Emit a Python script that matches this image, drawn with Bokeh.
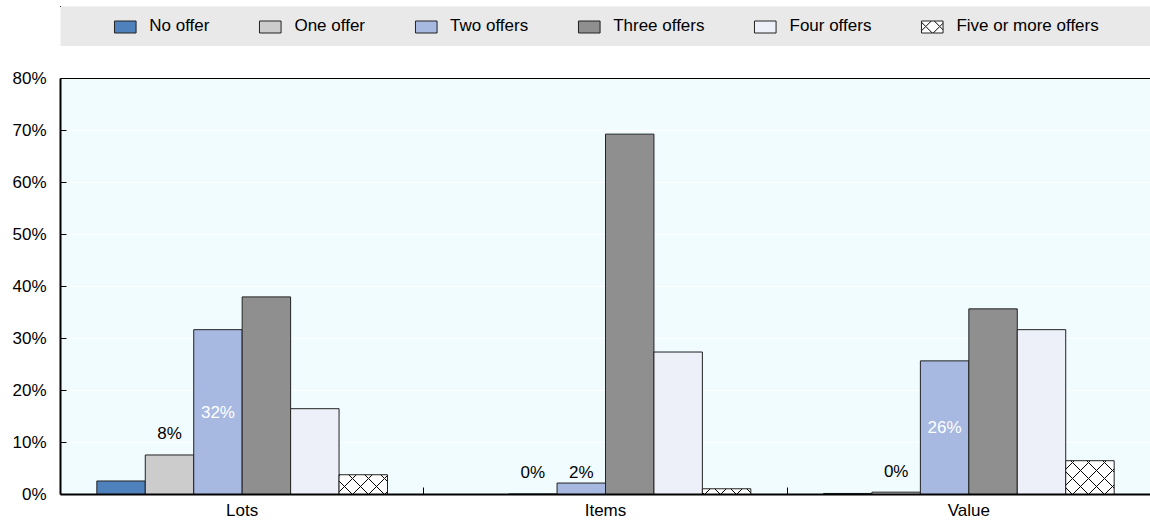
import numpy as np
import pandas as pd
from bokeh.plotting import figure
from bokeh.models import (ColumnDataSource, Range1d, FixedTicker, Legend, LegendItem,
                          LinearAxis)
from bokeh.layouts import column
from bokeh.transform import dodge
from bokeh.core.properties import value
from bokeh.embed import file_html
from bokeh.resources import INLINE

# ---------------- data ----------------
categories = ["Lots", "Items", "Value"]
series_names = ["No offer", "One offer", "Two offers", "Three offers", "Four offers", "Five or more offers"]
no_offer = [2.6, 0.0, 0.2]
one_offer = [7.6, 0.1, 0.45]
two_offers = [31.7, 2.2, 25.7]
three_offers = [38.0, 69.3, 35.7]
four_offers = [16.5, 27.4, 31.7]
five_or_more = [3.8, 1.1, 6.5]
y_ticks = [0, 10, 20, 30, 40, 50, 60, 70, 80]
y_tick_labels = ["0%", "10%", "20%", "30%", "40%", "50%", "60%", "70%", "80%"]

series_values = [no_offer, one_offer, two_offers, three_offers, four_offers, five_or_more]
colors = ["#4f81bd", "#cccccc", "#a7b8e1", "#8f8f8f", "#edf0f8", "#ffffff"]
hatches = [None, None, None, None, None, "diagonal_cross"]

FONT = "Liberation Sans"
FS = "17px"
W = 1150
n_series = len(series_names)
group_w = 0.8
bar_w = group_w / n_series
centers = [i + 0.5 for i in range(len(categories))]

# ---------------- main figure ----------------
p = figure(width=W, height=476, output_backend="svg", toolbar_location=None,
           x_range=Range1d(0, len(categories)), y_range=Range1d(0, 80),
           min_border_left=60, min_border_right=0, min_border_top=32, min_border_bottom=27)
p.background_fill_color = "#f0fcff"
p.border_fill_color = "white"
p.outline_line_color = None

for j, (name, vals, col, h) in enumerate(zip(series_names, series_values, colors, hatches)):
    src = ColumnDataSource(dict(x=centers, top=vals, cat=categories))
    off = -group_w / 2 + (j + 0.5) * bar_w
    kw = dict(x=dodge("x", off), top="top", bottom=0, width=bar_w, source=src,
              fill_color=col, line_color="#222222", line_width=1)
    if h:
        kw.update(hatch_pattern=h, hatch_color="black", hatch_scale=16, hatch_weight=1)
    p.vbar(**kw)

# data labels
def lab(v):
    return f"{int(round(v))}%"

off1 = -group_w / 2 + 1.5 * bar_w
off2 = -group_w / 2 + 2.5 * bar_w
lab1 = ColumnDataSource(dict(x=centers, y=one_offer, t=[lab(v) for v in one_offer]))
p.text(x=dodge("x", off1), y="y", text="t", source=lab1, text_align="center",
       text_baseline="alphabetic", y_offset=-21, text_font=value(FONT),
       text_font_size=FS, text_color="black")

in_x = [c for c, v in zip(centers, two_offers) if v >= 10]
in_v = [v for v in two_offers if v >= 10]
out_x = [c for c, v in zip(centers, two_offers) if v < 10]
out_v = [v for v in two_offers if v < 10]
lab2a = ColumnDataSource(dict(x=in_x, y=[v / 2 for v in in_v], t=[lab(v) for v in in_v]))
lab2b = ColumnDataSource(dict(x=out_x, y=out_v, t=[lab(v) for v in out_v]))
p.text(x=dodge("x", off2), y="y", text="t", source=lab2a, text_align="center",
       text_baseline="middle", text_font=value(FONT), text_font_size=FS, text_color="white")
p.text(x=dodge("x", off2), y="y", text="t", source=lab2b, text_align="center",
       text_baseline="alphabetic", y_offset=-11, text_font=value(FONT),
       text_font_size=FS, text_color="black")

# axes
xa = p.xaxis[0]
xa.ticker = FixedTicker(ticks=centers, minor_ticks=[1, 2])
xa.major_label_overrides = {c: t for c, t in zip(centers, categories)}
xa.major_tick_in = 0
xa.major_tick_out = 0
xa.minor_tick_in = 7
xa.minor_tick_out = 0
xa.minor_tick_line_color = "black"
xa.minor_tick_line_width = 1
xa.axis_line_color = "black"
xa.axis_line_width = 2
xa.major_label_standoff = 6
xa.major_label_text_font = FONT
xa.major_label_text_font_size = FS
xa.major_label_text_color = "black"

ya = p.yaxis[0]
ya.ticker = FixedTicker(ticks=y_ticks)
ya.major_label_overrides = {t: l for t, l in zip(y_ticks, y_tick_labels)}
ya.major_tick_in = 6
ya.major_tick_out = 0
ya.major_tick_line_color = "black"
ya.minor_tick_line_color = None
ya.axis_line_color = "black"
ya.axis_line_width = 2
ya.major_label_standoff = 14
ya.major_label_text_font = FONT
ya.major_label_text_font_size = FS
ya.major_label_text_color = "black"

top_ax = LinearAxis(ticker=FixedTicker(ticks=[]), axis_line_color="black", axis_line_width=1,
                    major_tick_line_color=None, minor_tick_line_color=None,
                    major_label_text_font_size="0px")
p.add_layout(top_ax, "above")

p.xgrid.grid_line_color = None
p.ygrid.grid_line_color = "white"
p.ygrid.grid_line_width = 1
p.ygrid.ticker = FixedTicker(ticks=y_ticks)

# ---------------- legend band ----------------
lg = figure(width=W, height=46, output_backend="svg", toolbar_location=None,
            x_range=Range1d(10, 13), y_range=Range1d(-2, -1),
            x_axis_location=None, y_axis_location=None,
            min_border_left=60, min_border_right=0, min_border_top=6, min_border_bottom=0)
lg.background_fill_color = "#e9e9e9"
lg.border_fill_color = "white"
lg.outline_line_color = None
lg.grid.visible = False

items = []
for j, (name, vals, col, h) in enumerate(zip(series_names, series_values, colors, hatches)):
    src = ColumnDataSource(dict(x=centers, top=vals))
    kw = dict(x="x", top="top", bottom=0, width=bar_w, source=src,
              fill_color=col, line_color="#222222", line_width=1)
    if h:
        kw.update(hatch_pattern=h, hatch_color="black", hatch_scale=14, hatch_weight=1)
    r = lg.vbar(**kw)
    items.append(LegendItem(label=name, renderers=[r]))

legend = Legend(items=items, orientation="horizontal", location="center",
                glyph_width=27, glyph_height=15, label_standoff=11, spacing=47,
                padding=0, margin=0, background_fill_alpha=0, border_line_alpha=0,
                label_text_font=FONT, label_text_font_size=FS, label_text_color="black")
lg.add_layout(legend, "center")

layout = column(lg, p, spacing=0)
open("out.html", "w").write(file_html(layout, INLINE))
